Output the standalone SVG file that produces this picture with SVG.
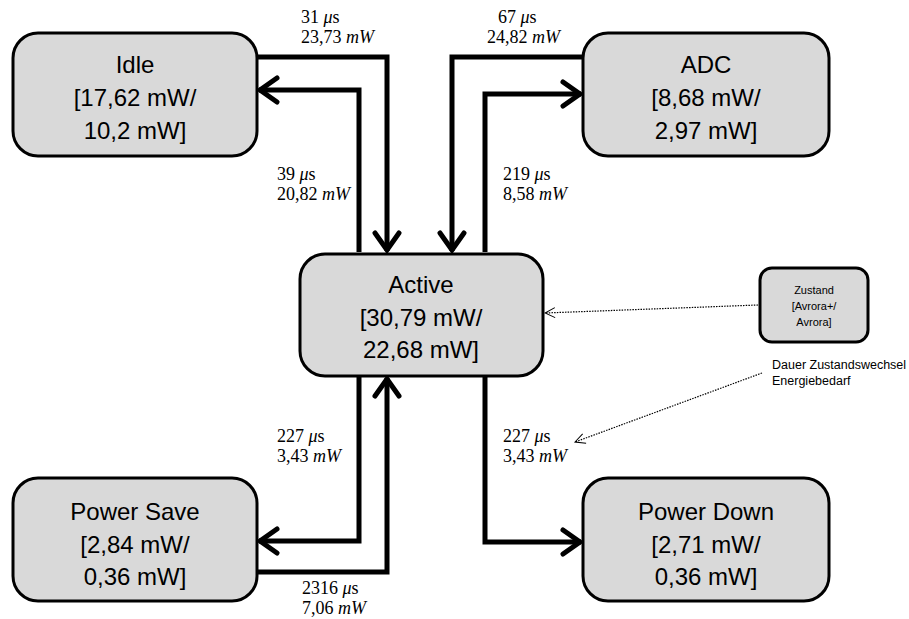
<svg xmlns="http://www.w3.org/2000/svg" width="909" height="619" viewBox="0 0 909 619">
<style>
.box{fill:#d9d9d9;stroke:#000;stroke-width:3}
.nt{font-family:"Liberation Sans",Arial,sans-serif;font-size:24px;text-anchor:middle;fill:#000}
.lt{font-family:"Liberation Sans",Arial,sans-serif;font-size:11px;text-anchor:middle;fill:#000}
.ann{font-family:"Liberation Sans",Arial,sans-serif;font-size:12.5px;fill:#000}
.lbl{font-family:"Liberation Serif","Times New Roman",serif;font-size:18px;fill:#000}
.it{font-style:italic}
.con{fill:none;stroke:#000;stroke-width:5;stroke-linejoin:miter}
.dot{fill:none;stroke:#000;stroke-width:1.2;stroke-dasharray:1.5 1.2}
</style>
<defs>
<marker id="ah" viewBox="0 0 24 30" refX="21" refY="15" markerWidth="24" markerHeight="30" markerUnits="userSpaceOnUse" orient="auto">
<path d="M3,3 L20,15 L3,27" fill="none" stroke="#000" stroke-width="5" stroke-linecap="round" stroke-linejoin="miter"/>
</marker>
<marker id="dh" viewBox="0 0 12 12" refX="11" refY="6" markerWidth="12" markerHeight="12" markerUnits="userSpaceOnUse" orient="auto">
<path d="M1,1 L11,6 L1,11" fill="none" stroke="#000" stroke-width="1"/>
</marker>
</defs>
<g id="connectors">
<path class="con" d="M257,57 H387 V251" marker-end="url(#ah)"/>
<path class="con" d="M359,252 V90 H259" marker-end="url(#ah)"/>
<path class="con" d="M583,57 H452 V251" marker-end="url(#ah)"/>
<path class="con" d="M485,252 V94 H581" marker-end="url(#ah)"/>
<path class="con" d="M359,377 V541 H259" marker-end="url(#ah)"/>
<path class="con" d="M257,572 H387 V378" marker-end="url(#ah)"/>
<path class="con" d="M485,377 V542 H581" marker-end="url(#ah)"/>
<path class="dot" d="M758,305 L545,313" marker-end="url(#dh)"/>
<path class="dot" d="M762,373 L575,442" marker-end="url(#dh)"/>
</g>
<g id="idle">
<rect class="box" x="13" y="33" width="244" height="123" rx="25"/>
<text class="nt" x="135" y="73">Idle</text>
<text class="nt" x="135" y="106">[17,62 mW/</text>
<text class="nt" x="135" y="139">10,2 mW]</text>
</g>
<g id="adc">
<rect class="box" x="583" y="33" width="246" height="123" rx="25"/>
<text class="nt" x="706" y="73">ADC</text>
<text class="nt" x="706" y="106">[8,68 mW/</text>
<text class="nt" x="706" y="139">2,97 mW]</text>
</g>
<g id="active">
<rect class="box" x="300" y="254" width="243" height="122" rx="25"/>
<text class="nt" x="421" y="293">Active</text>
<text class="nt" x="421" y="326">[30,79 mW/</text>
<text class="nt" x="421" y="358">22,68 mW]</text>
</g>
<g id="powersave">
<rect class="box" x="13" y="478" width="244" height="123" rx="25"/>
<text class="nt" x="135" y="520">Power Save</text>
<text class="nt" x="135" y="553">[2,84 mW/</text>
<text class="nt" x="135" y="585">0,36 mW]</text>
</g>
<g id="powerdown">
<rect class="box" x="583" y="478" width="246" height="123" rx="25"/>
<text class="nt" x="706" y="520">Power Down</text>
<text class="nt" x="706" y="553">[2,71 mW/</text>
<text class="nt" x="706" y="585">0,36 mW]</text>
</g>
<g id="legend">
<rect class="box" x="760" y="268" width="108" height="74" rx="12"/>
<text class="lt" x="814" y="294">Zustand</text>
<text class="lt" x="814" y="310">[Avrora+/</text>
<text class="lt" x="814" y="326">Avrora]</text>
</g>
<g id="annotation">
<text class="ann" x="772" y="369">Dauer Zustandswechsel</text>
<text class="ann" x="772" y="385">Energiebedarf</text>
</g>
<g id="labels">
<text class="lbl" x="301" y="23">31 <tspan class="it">μ</tspan>s</text>
<text class="lbl" x="301" y="43">23,73 <tspan class="it">mW</tspan></text>
<text class="lbl" x="498" y="23">67 <tspan class="it">μ</tspan>s</text>
<text class="lbl" x="487" y="43">24,82 <tspan class="it">mW</tspan></text>
<text class="lbl" x="277" y="180">39 <tspan class="it">μ</tspan>s</text>
<text class="lbl" x="277" y="200">20,82 <tspan class="it">mW</tspan></text>
<text class="lbl" x="503" y="180">219 <tspan class="it">μ</tspan>s</text>
<text class="lbl" x="503" y="200">8,58 <tspan class="it">mW</tspan></text>
<text class="lbl" x="277" y="442">227 <tspan class="it">μ</tspan>s</text>
<text class="lbl" x="277" y="462">3,43 <tspan class="it">mW</tspan></text>
<text class="lbl" x="503" y="442">227 <tspan class="it">μ</tspan>s</text>
<text class="lbl" x="503" y="462">3,43 <tspan class="it">mW</tspan></text>
<text class="lbl" x="302" y="594">2316 <tspan class="it">μ</tspan>s</text>
<text class="lbl" x="302" y="614">7,06 <tspan class="it">mW</tspan></text>
</g>
</svg>
